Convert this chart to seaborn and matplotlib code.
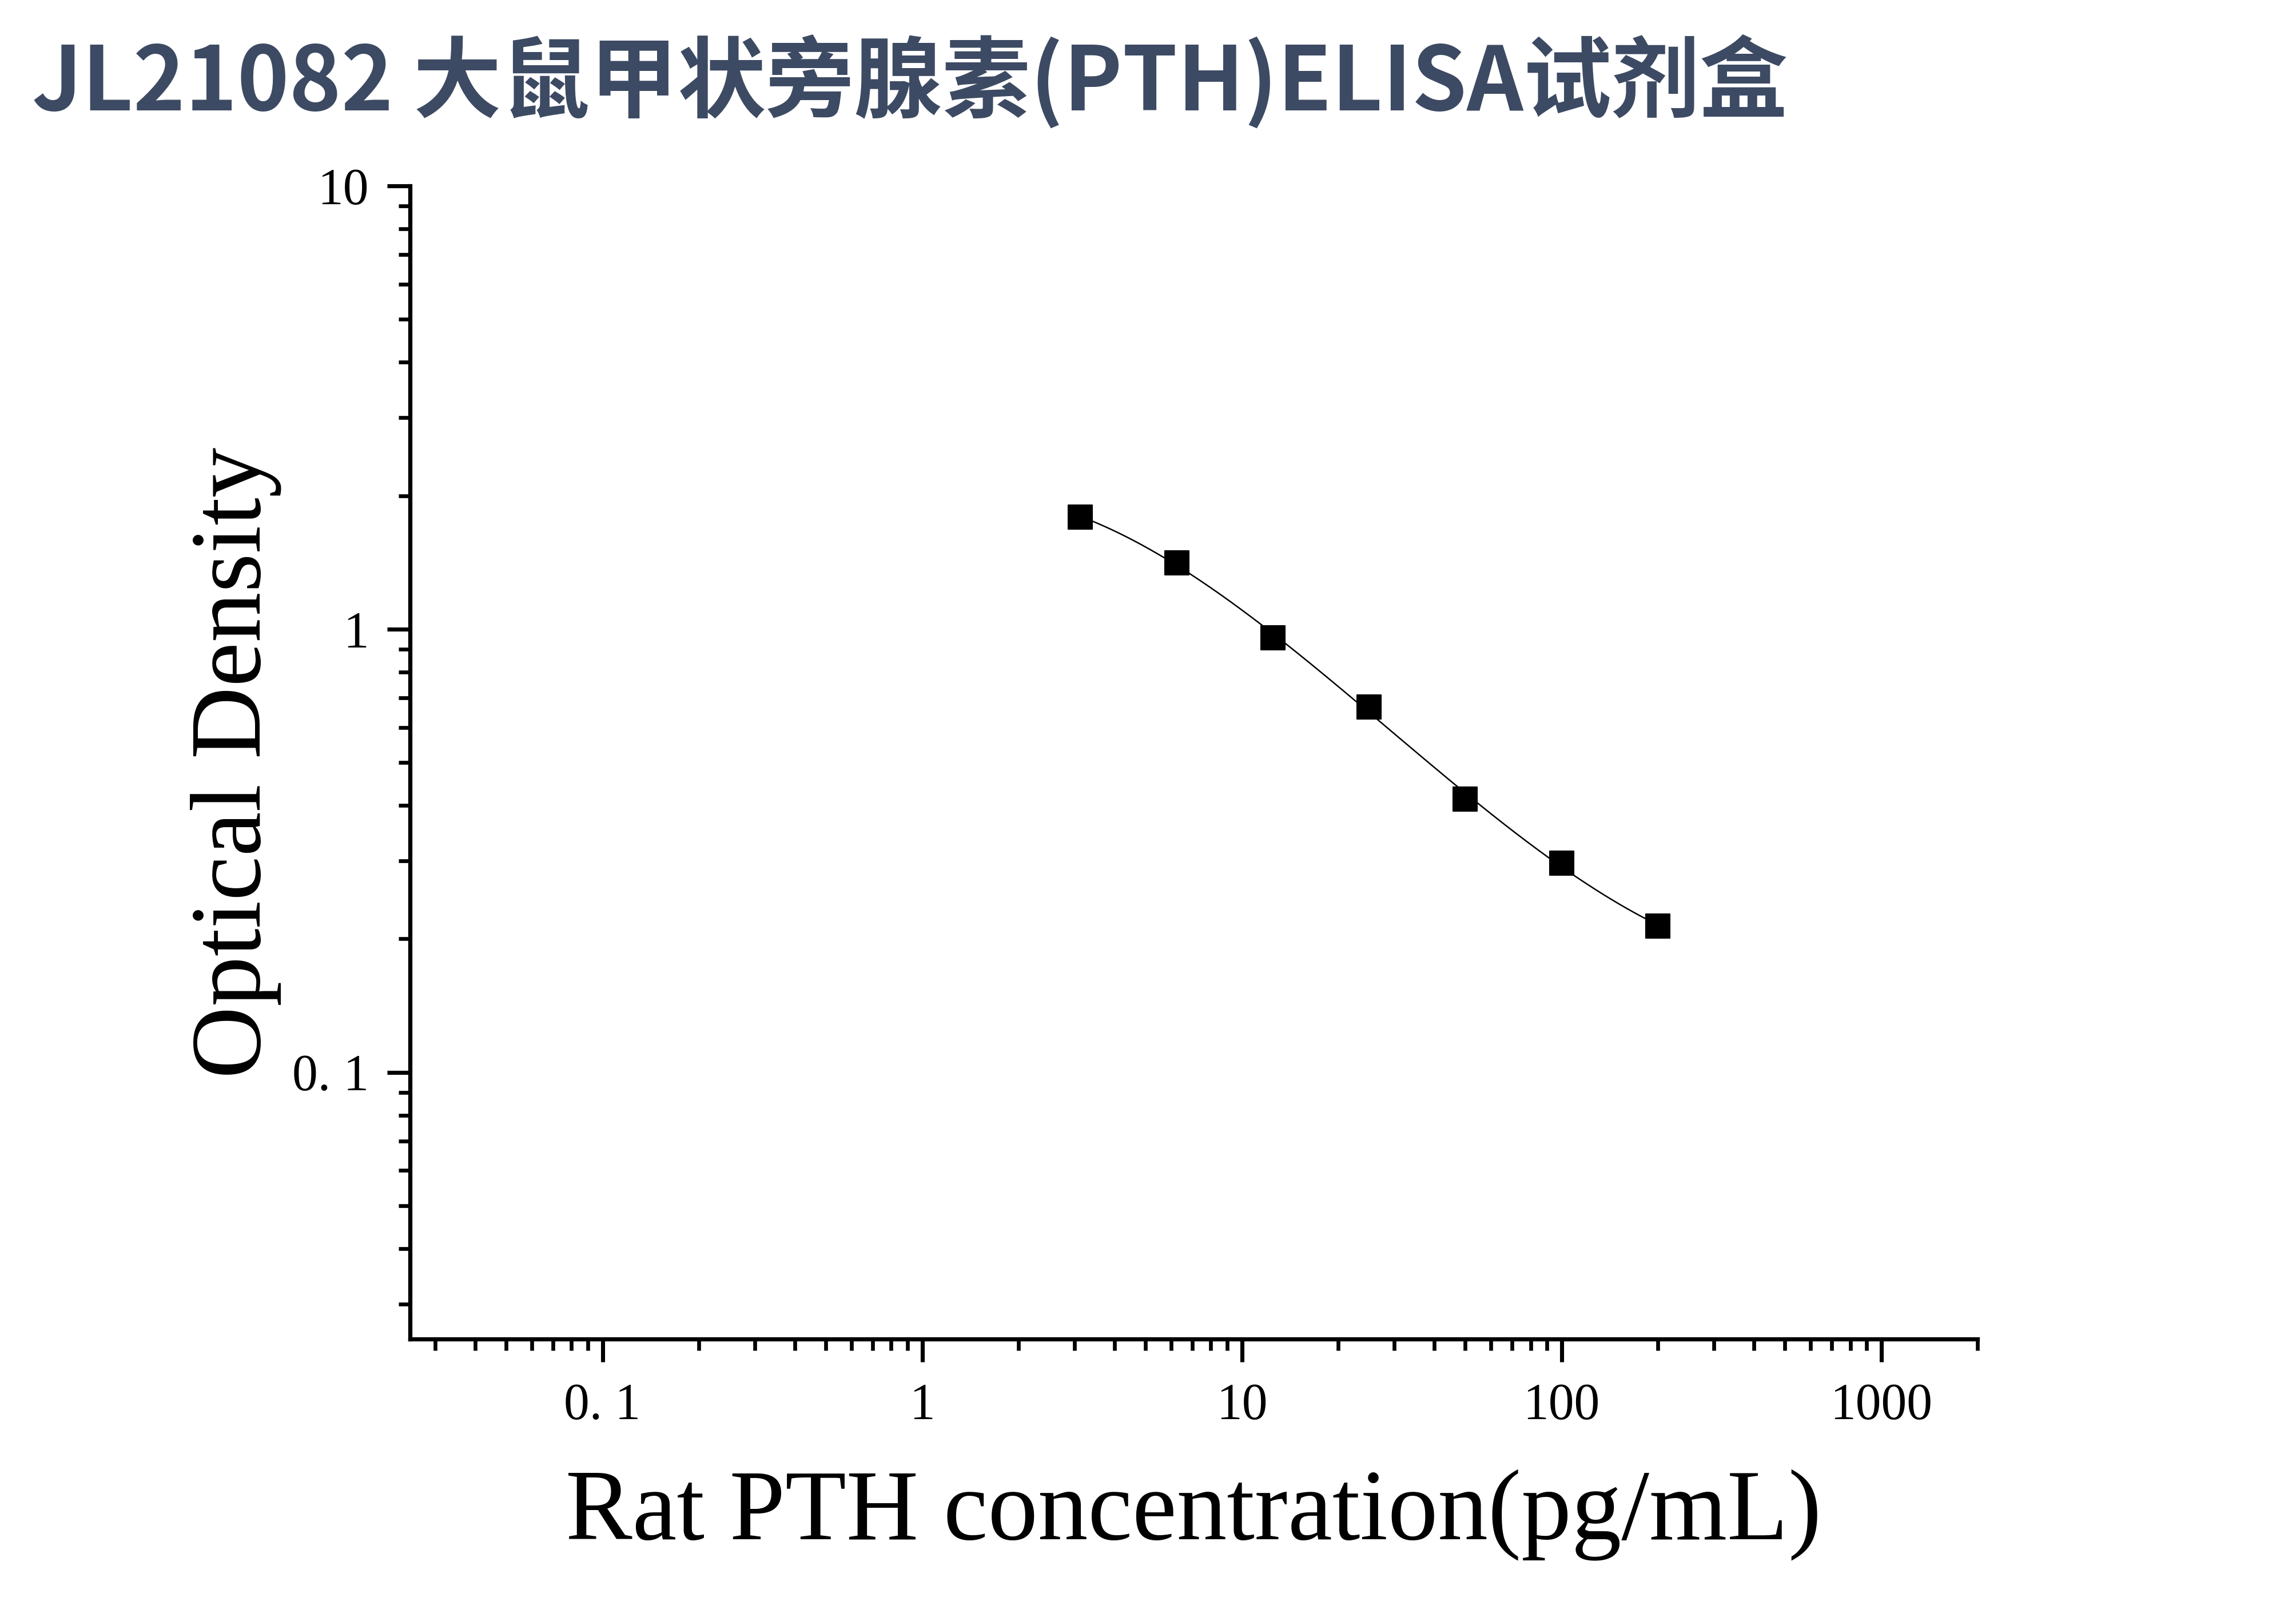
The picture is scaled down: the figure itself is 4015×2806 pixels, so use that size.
import numpy as np
import pandas as pd
import matplotlib
matplotlib.use("Agg")
import matplotlib.pyplot as plt
import matplotlib.ticker as mticker
import seaborn as sns

# ---- data ----
concentration = [3.125, 6.25, 12.5, 25, 50, 100, 200]
optical_density = [1.79, 1.41, 0.955, 0.668, 0.414, 0.296, 0.214]
x_tick_values = [0.1, 1, 10, 100, 1000]
x_tick_labels = ["0. 1", "1", "10", "100", "1000"]
y_tick_values = [0.1, 1, 10]
y_tick_labels = ["0. 1", "1", "10"]

title_text = "JL21082 大鼠甲状旁腺素(PTH)ELISA试剂盒"
x_label = "Rat PTH concentration(pg/mL)"
y_label = "Optical Density"

sns.set_theme(style="ticks")
plt.rcParams['font.family'] = ['Liberation Serif', 'DejaVu Serif']

W, H, DPI = 4015, 2806, 300
fig = plt.figure(figsize=(W / DPI, H / DPI), dpi=DPI)
fig.patch.set_facecolor("white")

left, right, top, bottom = 717, 3458, 325, 2341
ax = fig.add_axes([left / W, 1 - bottom / H, (right - left) / W, (bottom - top) / H])
ax.set_facecolor("white")

df = pd.DataFrame({"conc": concentration, "od": optical_density})

# smooth fitted curve in log-log space through the standards
lx = np.log10(df["conc"].to_numpy())
ly = np.log10(df["od"].to_numpy())
coef = np.polyfit(lx, ly, 3)
grid = np.linspace(lx.min(), lx.max(), 300)
curve = pd.DataFrame({"conc": 10 ** grid, "od": 10 ** np.polyval(coef, grid)})

ax.set_xscale("log")
ax.set_yscale("log")

sns.lineplot(data=curve, x="conc", y="od", ax=ax, color="black", linewidth=0.6,
             sort=False, zorder=2)
sns.scatterplot(data=df, x="conc", y="od", ax=ax, marker="s", s=105,
                color="black", edgecolor="black", linewidth=0.5, zorder=3)

ax.set_xlim(0.025, 2000)
ax.set_ylim(0.025, 10)

for s in ["top", "right"]:
    ax.spines[s].set_visible(False)
for s in ["left", "bottom"]:
    ax.spines[s].set_linewidth(1.75)
    ax.spines[s].set_color("black")

ax.xaxis.set_major_locator(mticker.FixedLocator(x_tick_values))
ax.xaxis.set_major_formatter(mticker.FixedFormatter(x_tick_labels))
ax.yaxis.set_major_locator(mticker.FixedLocator(y_tick_values))
ax.yaxis.set_major_formatter(mticker.FixedFormatter(y_tick_labels))
ax.xaxis.set_minor_locator(mticker.LogLocator(base=10, subs=np.arange(2, 10), numticks=20))
ax.yaxis.set_minor_locator(mticker.LogLocator(base=10, subs=np.arange(2, 10), numticks=20))
ax.xaxis.set_minor_formatter(mticker.NullFormatter())
ax.yaxis.set_minor_formatter(mticker.NullFormatter())

ax.tick_params(which="major", direction="out", length=9.7, width=1.7, color="black",
               labelsize=21.5, labelcolor="black")
ax.tick_params(which="minor", direction="out", length=4.8, width=1.6, color="black")
ax.tick_params(axis="x", which="major", pad=8.6)
ax.tick_params(axis="y", which="major", pad=7.6)

ax.set_xlabel(x_label, fontsize=42, color="black")
ax.set_ylabel(y_label, fontsize=42, color="black")
ax.xaxis.set_label_coords(0.5, (bottom - 2568) / (bottom - top))
ax.yaxis.set_label_coords((492 - left) / (right - left), 0.5)

fig.text(56 / W, 1 - 193 / H, title_text, fontsize=37, fontweight="bold",
         color="#3d4a63", ha="left", va="baseline",
         family=["Noto Sans CJK SC", "DejaVu Sans"])

fig.savefig("out.png", dpi=DPI, facecolor="white")
